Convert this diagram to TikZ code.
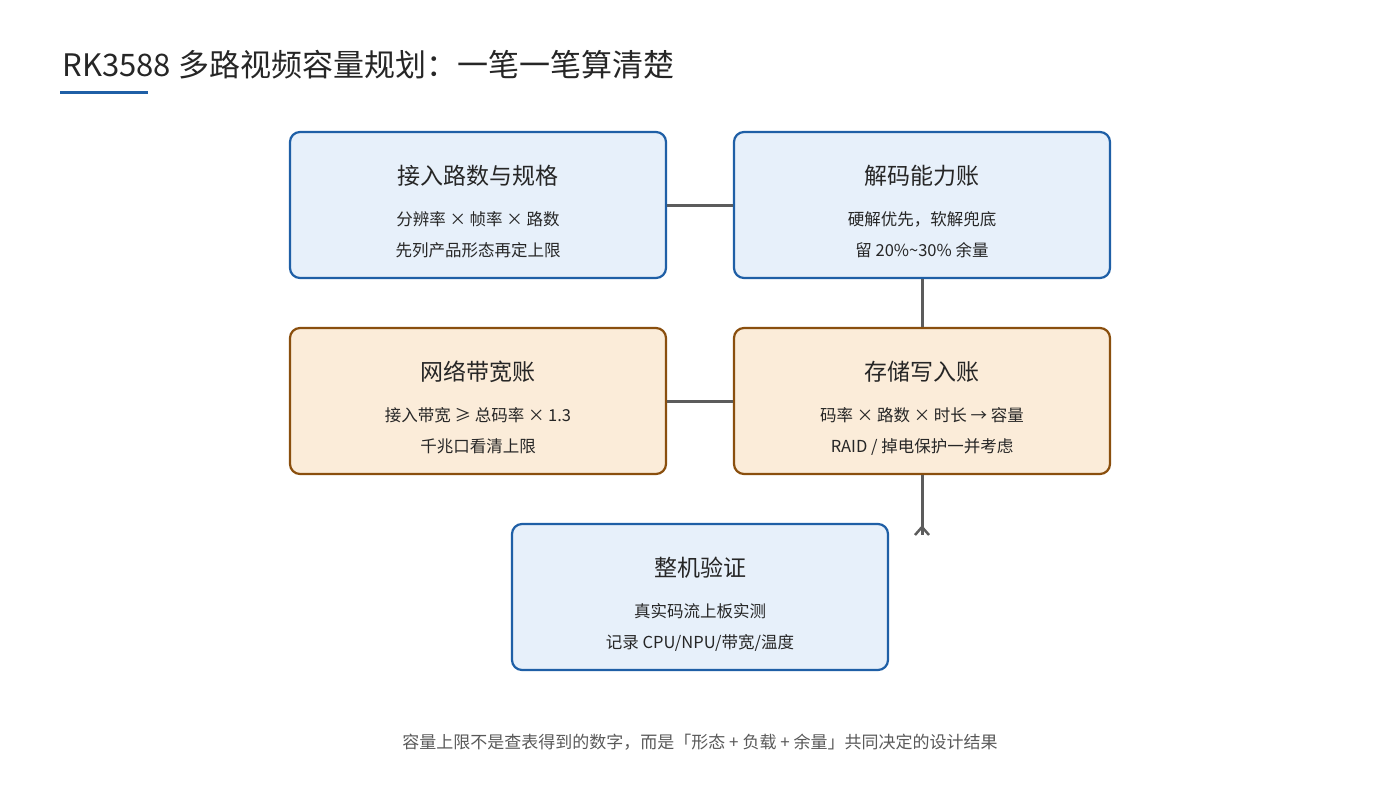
\documentclass[tikz,border=0pt]{standalone}
\usepackage{fontspec}
\setmainfont{Noto Sans CJK SC}
\usetikzlibrary{arrows.meta}
\definecolor{bb}{HTML}{1F5FA6}
\definecolor{bf}{HTML}{E7F0FA}
\definecolor{ob}{HTML}{8A4F0E}
\definecolor{of}{HTML}{FBECD9}
\definecolor{ln}{HTML}{5C5C5C}
\begin{document}
\begin{tikzpicture}[x=1pt,y=-1pt,
  box/.style={draw, line width=2.2pt, rounded corners=10pt, minimum width=376pt, minimum height=146pt, inner sep=0pt},
  blue/.style={box, draw=bb, fill=bf},
  org/.style={box, draw=ob, fill=of},
  con/.style={draw=ln, line width=3pt}]
\useasboundingbox (0,0) rectangle (1400,800);
\node[anchor=west, font=\fontsize{31}{36}\selectfont, text=black!85] (title) at (59,65) {RK3588 多路视频容量规划：一笔一笔算清楚};
\fill[bb] (60,90.5) rectangle (148,94);
\newcommand{\bx}[5]{%
\node[#1] (#2) at (#3) {};
\node[font=\fontsize{23}{28}\selectfont, text=black!85] (#2t) at ($(#2.center)+(0,-29)$) {#4};
\node[font=\fontsize{16.5}{31}\selectfont, text=black!85, align=center] (#2b) at ($(#2.center)+(0,30)$) {#5};}
\usetikzlibrary{calc}
\bx{blue}{a}{478,205}{接入路数与规格}{分辨率 × 帧率 × 路数\\先列产品形态再定上限}
\bx{blue}{b}{922,205}{解码能力账}{硬解优先，软解兜底\\留 20\%\textasciitilde30\% 余量}
\bx{org}{c}{478,401}{网络带宽账}{接入带宽 ≥ 总码率 × 1.3\\千兆口看清上限}
\bx{org}{d}{922,401}{存储写入账}{码率 × 路数 × 时长 → 容量\\RAID / 掉电保护一并考虑}
\bx{blue}{e}{700,597}{整机验证}{真实码流上板实测\\记录 CPU/NPU/带宽/温度}
\draw[con] (a.east) -- (b.west);
\draw[con] (b.south) -- (d.north);
\draw[con] (c.east) -- (d.west);
\coordinate (dend) at (922,535);
\draw[con] (d.south) -- (dend);
\draw[con, line width=2.5pt] (915,535) -- (922,527) -- (929,535);
\node[font=\fontsize{17}{20}\selectfont, text=black!65] (foot) at (700,742) {容量上限不是查表得到的数字，而是「形态 + 负载 + 余量」共同决定的设计结果};
\end{tikzpicture}
\end{document}
